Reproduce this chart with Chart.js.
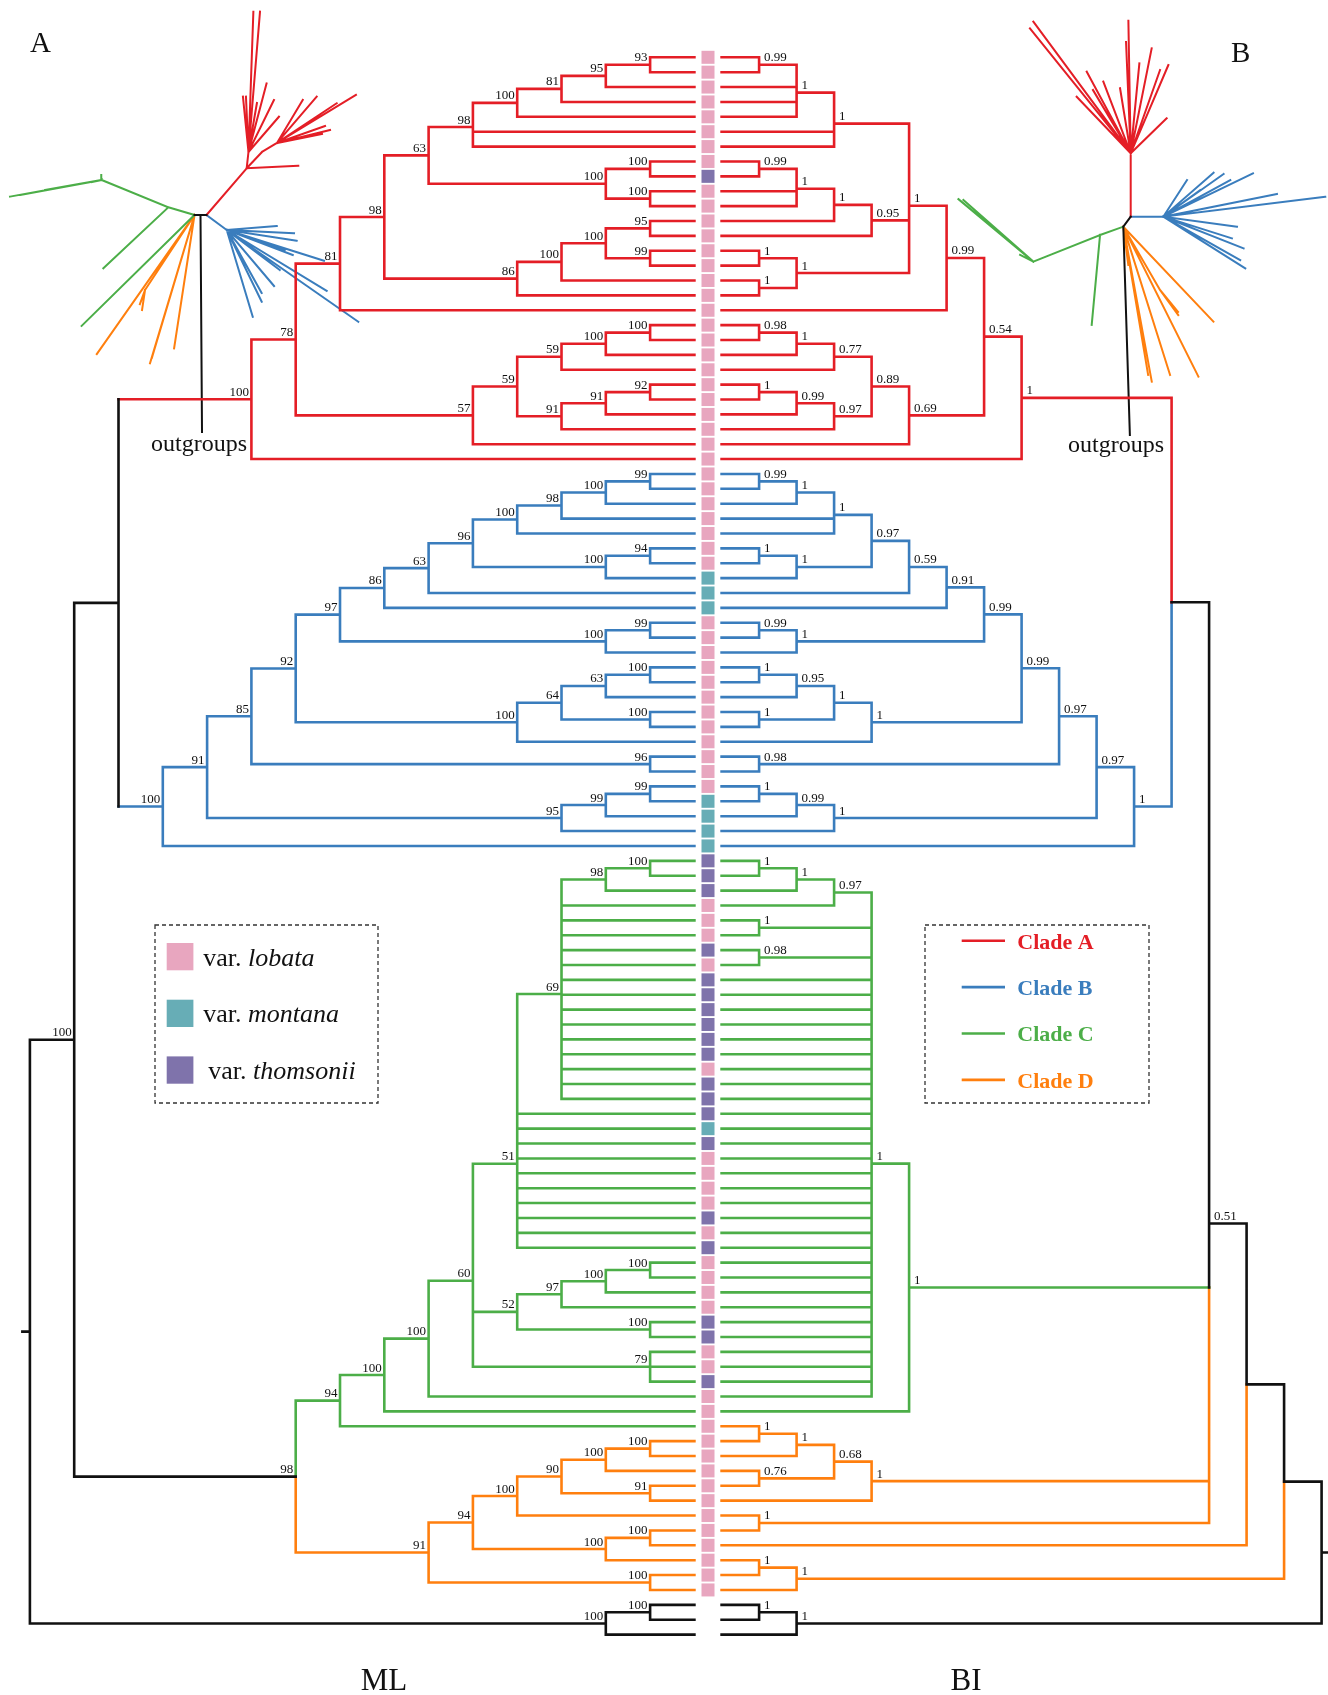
<!DOCTYPE html>
<html>
<head>
<meta charset="utf-8">
<script src="https://cdn.jsdelivr.net/npm/chart.js@4.4.1/dist/chart.umd.min.js"></script>
<style>
  html, body { margin: 0; padding: 0; background: #fff; }
  #wrap { width: 1328px; height: 1695px; }
</style>
</head>
<body>
<div id="wrap"><canvas id="tree" width="1328" height="1695"></canvas></div>
<script>
"use strict";

// ---- data ---------------------------------------------------------------
// 104 samples (leaves 0..103, top to bottom) + 3 outgroups (104..106)
const leafCount = 107;
const sampleCount = 104;

// one letter per sample: L = var. lobata, M = var. montana, T = var. thomsonii
const varieties =
  "LLLLLLLLTLLLLLLLLLLLLLLLLLLL" +
  "LLLLLLLMMMLLLLLLLLLLLLMMMM" +
  "TTTLLLTLTTTTTTLTTTMTLLLLTLTLLLLTTLLTLLL" +
  "LLLLLLLLLLL";

// clades as leaf ranges [first, last, clade]
const mlClades = [[0, 27, "A"], [28, 53, "B"], [54, 92, "C"], [93, 103, "D"]];
const biClades = [[0, 27, "A"], [28, 53, "B"], [54, 91, "C"], [92, 103, "D"]];

// internal nodes: [first leaf, last leaf, depth level, support]
const mlNodes = [
  // clade A
  [0, 1, 1, 93], [0, 2, 2, 95], [0, 3, 3, 81], [0, 4, 4, 100], [0, 6, 5, 98],
  [7, 8, 1, 100], [9, 10, 1, 100], [7, 10, 2, 100], [0, 10, 6, 63],
  [11, 12, 1, 95], [13, 14, 1, 99], [11, 14, 2, 100], [11, 15, 3, 100], [11, 16, 4, 86],
  [0, 16, 7, 98], [0, 17, 8, 81],
  [18, 19, 1, 100], [18, 20, 2, 100], [18, 21, 3, 59], [22, 23, 1, 92], [22, 24, 2, 91],
  [22, 25, 3, 91], [18, 25, 4, 59], [18, 26, 5, 57], [0, 26, 9, 78], [0, 27, 10, 100],
  // clade B
  [28, 29, 1, 99], [28, 30, 2, 100], [28, 31, 3, 98], [28, 32, 4, 100], [33, 34, 1, 94],
  [33, 35, 2, 100], [28, 35, 5, 96], [28, 36, 6, 63], [28, 37, 7, 86], [38, 39, 1, 99],
  [38, 40, 2, 100], [28, 40, 8, 97], [41, 42, 1, 100], [41, 43, 2, 63], [44, 45, 1, 100],
  [41, 45, 3, 64], [41, 46, 4, 100], [28, 46, 9, 92], [47, 48, 1, 96], [28, 48, 10, 85],
  [49, 50, 1, 99], [49, 51, 2, 99], [49, 52, 3, 95], [28, 52, 11, 91], [28, 53, 12, 100],
  // clade C
  [54, 55, 1, 100], [54, 56, 2, 98], [54, 70, 3, 69], [54, 80, 4, 51], [81, 82, 1, 100],
  [81, 83, 2, 100], [81, 84, 3, 97], [85, 86, 1, 100], [81, 86, 4, 52], [87, 89, 1, 79],
  [54, 89, 5, 60], [54, 90, 6, 100], [54, 91, 7, 100], [54, 92, 8, 94],
  // clade D
  [93, 94, 1, 100], [93, 95, 2, 100], [96, 97, 1, 91], [93, 97, 3, 90], [93, 98, 4, 100],
  [99, 100, 1, 100], [99, 101, 2, 100], [93, 101, 5, 94], [102, 103, 1, 100], [93, 103, 6, 91],
  // backbone and outgroups
  [54, 103, 9, 98], [0, 53, 13, null], [0, 103, 14, 100],
  [104, 105, 1, 100], [104, 106, 2, 100], [0, 106, 15, null]
];

const biNodes = [
  // clade A
  [0, 1, 1, 0.99], [0, 4, 2, 1], [0, 6, 3, 1], [7, 8, 1, 0.99], [7, 10, 2, 1], [7, 11, 3, 1],
  [7, 12, 4, 0.95], [13, 14, 1, 1], [15, 16, 1, 1], [13, 16, 2, 1], [0, 16, 5, 1], [0, 17, 6, 0.99],
  [18, 19, 1, 0.98], [18, 20, 2, 1], [18, 21, 3, 0.77], [22, 23, 1, 1], [22, 24, 2, 0.99],
  [22, 25, 3, 0.97], [18, 25, 4, 0.89], [18, 26, 5, 0.69], [0, 26, 7, 0.54], [0, 27, 8, 1],
  // clade B
  [28, 29, 1, 0.99], [28, 30, 2, 1], [28, 32, 3, 1], [33, 34, 1, 1], [33, 35, 2, 1],
  [28, 35, 4, 0.97], [28, 36, 5, 0.59], [28, 37, 6, 0.91], [38, 39, 1, 0.99], [38, 40, 2, 1],
  [28, 40, 7, 0.99], [41, 42, 1, 1], [41, 43, 2, 0.95], [44, 45, 1, 1], [41, 45, 3, 1],
  [41, 46, 4, 1], [28, 46, 8, 0.99], [47, 48, 1, 0.98], [28, 48, 9, 0.97], [49, 50, 1, 1],
  [49, 51, 2, 0.99], [49, 52, 3, 1], [28, 52, 10, 0.97], [28, 53, 11, 1],
  // clade C
  [54, 55, 1, 1], [54, 56, 2, 1], [54, 57, 3, 0.97], [58, 59, 1, 1], [60, 61, 1, 0.98],
  [54, 90, 4, 1], [54, 91, 5, 1],
  // clade D
  [92, 93, 1, 1], [92, 94, 2, 1], [95, 96, 1, 0.76], [92, 96, 3, 0.68], [92, 97, 4, 1],
  [98, 99, 1, 1], [101, 102, 1, 1], [101, 103, 2, 1],
  // backbone and outgroups
  [0, 53, 12, null], [0, 99, 13, 0.51], [0, 100, 14, null], [0, 103, 15, null],
  [104, 105, 1, 1], [104, 106, 2, 1], [0, 106, 16, null]
];

// unrooted overview trees: [parent node, angle (deg), branch length, clade]; node 0 is the hub
const insetA = [
  [0, 180, 6, "O"], [0, 0, 6, "O"], [0, -89.6, 217, "O"],
  [2, 49.3, 61.6, "A"], [4, 2.9, 51.7, "A"], [4, 83.7, 16.4, "A"],
  [6, 88, 140.4, "A"], [6, 85.3, 140.8, "A"], [6, 95.7, 55.6, "A"], [6, 92.6, 55.4, "A"],
  [6, 75.2, 71, "A"], [6, 80.2, 49.7, "A"], [6, 63.9, 57.9, "A"], [6, 49.2, 46.6, "A"],
  [4, 46.8, 22.4, "A"], [15, 31, 17.5, "A"],
  [16, 49.4, 61, "A"], [16, 31.3, 92.4, "A"], [16, 13.8, 54.6, "A"], [16, 19.5, 51, "A"],
  [16, 59.1, 50.1, "A"], [16, 33.6, 71.7, "A"], [16, 11.3, 45.9, "A"],
  [1, 163.6, 27.3, "C"], [24, 157.7, 72, "C"], [25, 190.3, 93.2, "C"], [25, 190.4, 83, "C"],
  [25, 190, 57.6, "C"], [25, 191.6, 9.9, "C"], [25, 95, 5, "C"], [24, 223.2, 89.1, "C"],
  [1, 224.5, 158.3, "C"],
  [1, 234.9, 170, "D"], [1, 253.3, 154.8, "D"], [1, 261.3, 134.9, "D"], [1, 253.4, 149, "D"],
  [1, 236.6, 89.9, "D"], [37, 261.5, 20.2, "D"], [37, 250, 15, "D"],
  [2, -36.6, 25.2, "B"], [40, 4.6, 50.2, "B"], [40, -2.8, 67.4, "B"], [40, -8.7, 70.8, "B"],
  [40, -20.7, 70.6, "B"], [40, -17.5, 102, "B"], [40, -31.3, 117, "B"], [40, -34.9, 160.4, "B"],
  [40, -49.8, 73.3, "B"], [40, -64, 79.8, "B"], [40, -73.3, 90.5, "B"], [40, -61, 72, "B"],
  [40, -37, 66.4, "B"], [40, -19, 61.4, "B"]
];
const insetB = [
  [0, 233.5, 12.4, "O"], [1, -88.2, 208.4, "O"], [0, 90, 63.4, "A"],
  [3, 128.9, 160.5, "A"], [3, 126.5, 163.7, "A"], [3, 133.7, 78.2, "A"], [3, 118.3, 92.7, "A"],
  [3, 110.9, 76.7, "A"], [3, 99.3, 65.9, "A"], [3, 91, 132.6, "A"], [3, 92.4, 111.4, "A"],
  [3, 84.5, 90.4, "A"], [3, 78.7, 107, "A"], [3, 66.9, 96, "A"], [3, 44.2, 50.2, "A"],
  [3, 70.6, 88.3, "A"], [3, 120.8, 73.7, "A"],
  [0, 0, 22.6, "B"], [18, 0, 10, "B"],
  [19, 57.1, 43.7, "B"], [19, 41.2, 66.8, "B"], [19, 35.3, 73.9, "B"], [19, 25.8, 99.6, "B"],
  [19, 11.3, 115.9, "B"], [19, 7, 163.2, "B"], [19, -7.7, 74.4, "B"], [19, -21.5, 86.3, "B"],
  [19, -32.2, 96.9, "B"], [19, -17.5, 72, "B"], [19, -29.4, 88.3, "B"], [19, 35.8, 45.6, "B"],
  [19, 28.7, 76.4, "B"],
  [1, 199.6, 24.7, "C"], [33, 201.8, 71.8, "C"], [34, 140.2, 97.6, "C"], [34, 138.6, 93.3, "C"],
  [34, 153, 14.9, "C"], [33, 264.7, 90.4, "C"],
  [1, -46.5, 130.9, "D"], [1, -63.4, 167.7, "D"], [1, -72.5, 155.5, "D"], [1, -79.6, 157.6, "D"],
  [1, -80.5, 150.3, "D"], [1, -82.6, 38.6, "D"], [1, -59.9, 73.2, "D"], [45, -50.7, 28.4, "D"],
  [45, -54, 31, "D"]
];

// ---- styles / layout ------------------------------------------------------
const cladeColors = { O: "#111111", A: "#e41e26", B: "#3a7dbd", C: "#4cae48", D: "#ff7f0e" };
const varietyColors = { L: "#e8a6bf", M: "#67adb6", T: "#7f73ab" };
const cladeNames = { A: "Clade A", B: "Clade B", C: "Clade C", D: "Clade D" };
const varietyNames = { L: "lobata", M: "montana", T: "thomsonii" };
const SERIF = '"Liberation Serif", "Times New Roman", serif';
const squareX = 708;                  // column of variety squares (px)
// joints drawn in the node's own colour from the first child down to child k
const mlDarkJoins = [[0, 53, 1]];
const biDarkJoins = [[0, 99, 1]];
const lineW = 2.6;

// ---- tree building --------------------------------------------------------
function buildTree(rows, clades) {
  const cladeOf = (a, b) => {
    const c = clades.find(c => a >= c[0] && b <= c[1]);
    return c ? c[2] : "O";
  };
  const nodes = rows.map(r => ({ a: r[0], b: r[1], level: r[2], support: r[3], kids: [] }));
  nodes.sort((p, q) => (p.b - p.a) - (q.b - q.a));
  nodes.forEach(n => {
    n.clade = cladeOf(n.a, n.b);
    n.parent = nodes.find(m => m !== n && m.a <= n.a && m.b >= n.b && (m.b - m.a) > (n.b - n.a)) || null;
  });
  nodes.forEach(n => {
    const direct = nodes.filter(m => m.parent === n);
    for (let i = n.a; i <= n.b;) {
      const c = direct.find(m => m.a === i);
      if (c) { n.kids.push(c); i = c.b + 1; }
      else { n.kids.push({ level: 0, y: i, clade: cladeOf(i, i) }); i++; }
    }
    n.y = n.kids.reduce((s, k) => s + k.y, 0) / n.kids.length;
  });
  return { nodes, root: nodes.find(n => !n.parent) };
}

function treeSegments(tree, darkJoins, stub) {
  const out = {};
  const add = (clade, pts) => {
    (out[clade] = out[clade] || []).push(...pts.map(p => ({ x: p[0], y: p[1] })), { x: null, y: null });
  };
  tree.nodes.forEach(n => {
    const join = darkJoins.find(r => r[0] === n.a && r[1] === n.b);
    if (join) {
      const k = join[2], ky = n.kids[k].y;
      add(n.clade, [[n.level, n.kids[0].y], [n.level, ky]]);
      n.kids.forEach((kid, j) => {
        if (j > k) add(kid.clade, [[n.level, ky], [n.level, kid.y], [kid.level, kid.y]]);
        else add(kid.clade, [[n.level, kid.y], [kid.level, kid.y]]);
      });
      return;
    }
    n.kids.forEach(k => add(k.clade, [[n.level, n.y], [n.level, k.y], [k.level, k.y]]));
  });
  add(tree.root.clade, [[tree.root.level, tree.root.y], [tree.root.level + stub, tree.root.y]]);
  return out;
}

function insetSegments(branches, hub) {
  const pts = [hub];
  const out = {};
  branches.forEach(([p, ang, len, clade]) => {
    const from = pts[p], rad = ang * Math.PI / 180;
    const to = [from[0] + len * Math.cos(rad), from[1] - len * Math.sin(rad)];
    pts.push(to);
    (out[clade] = out[clade] || []).push({ x: from[0], y: from[1] }, { x: to[0], y: to[1] }, { x: null, y: null });
  });
  return out;
}

const mlTree = buildTree(mlNodes, mlClades);
const biTree = buildTree(biNodes, biClades);

const datasets = [];
function pushLines(segs, xAxisID, yAxisID, width) {
  ["O", "A", "B", "C", "D"].forEach(c => {
    if (!segs[c]) return;
    datasets.push({
      data: segs[c], xAxisID, yAxisID, showLine: true, spanGaps: false,
      borderColor: cladeColors[c], borderWidth: width, pointRadius: 0,
      borderCapStyle: "square", borderJoinStyle: "miter", tension: 0, fill: false
    });
  });
}
pushLines(treeSegments(mlTree, mlDarkJoins, 0.17), "xm", "yl", lineW);
pushLines(treeSegments(biTree, biDarkJoins, 0.2), "xb", "yl", lineW);
pushLines(insetSegments(insetA, [200.5, 215]), "xp", "yp", 2);
pushLines(insetSegments(insetB, [1130.7, 216.7]), "xp", "yp", 2);

datasets.push({
  data: Array.from({ length: sampleCount }, (_, i) => ({ x: squareX, y: i })),
  xAxisID: "xp", yAxisID: "yl", showLine: false,
  pointStyle: "rect", pointRadius: 9.2, borderWidth: 0,
  backgroundColor: Array.from(varieties).map(v => varietyColors[v])
});

// ---- texts drawn on top ------------------------------------------------------
const textPlugin = {
  id: "treeTexts",
  afterDatasetsDraw(chart) {
    const ctx = chart.ctx, s = chart.scales;
    ctx.save();
    ctx.fillStyle = "#111";
    ctx.textBaseline = "alphabetic";

    // support values
    ctx.font = "13px " + SERIF;
    ctx.textAlign = "right";
    mlTree.nodes.forEach(n => {
      if (n.support == null) return;
      ctx.fillText(String(n.support), s.xm.getPixelForValue(n.level) - 2.5, s.yl.getPixelForValue(n.y) - 3.5);
    });
    ctx.textAlign = "left";
    biTree.nodes.forEach(n => {
      if (n.support == null) return;
      ctx.fillText(String(n.support), s.xb.getPixelForValue(n.level) + 5, s.yl.getPixelForValue(n.y) - 3.5);
    });

    // panel letters and titles
    ctx.font = "29px " + SERIF;
    ctx.fillText("A", 30, 52);
    ctx.fillText("B", 1231, 62);
    ctx.font = "24px " + SERIF;
    ctx.fillText("outgroups", 151, 451);
    ctx.fillText("outgroups", 1068, 452);
    ctx.font = "31px " + SERIF;
    ctx.textAlign = "center";
    ctx.fillText("ML", 384, 1690);
    ctx.fillText("BI", 966, 1690);

    // legend boxes
    ctx.strokeStyle = "#333";
    ctx.lineWidth = 1.3;
    ctx.setLineDash([4, 3]);
    ctx.strokeRect(155, 925, 223, 178);
    ctx.strokeRect(925, 925, 224, 178);
    ctx.setLineDash([]);

    ctx.textAlign = "left";
    ["L", "M", "T"].forEach((v, i) => {
      const top = 943 + i * 56.7;
      ctx.fillStyle = varietyColors[v];
      ctx.fillRect(166.7, top, 26.7, 27.3);
      ctx.fillStyle = "#111";
      const tx = i === 2 ? 208.3 : 203.3;
      ctx.font = "26px " + SERIF;
      ctx.fillText("var. ", tx, top + 22.5);
      const w = ctx.measureText("var. ").width;
      ctx.font = "italic 26px " + SERIF;
      ctx.fillText(varietyNames[v], tx + w, top + 22.5);
    });

    ["A", "B", "C", "D"].forEach((c, i) => {
      const y = 940.7 + i * 46.4;
      ctx.strokeStyle = cladeColors[c];
      ctx.lineWidth = 2.6;
      ctx.beginPath();
      ctx.moveTo(961.7, y);
      ctx.lineTo(1005, y);
      ctx.stroke();
      ctx.fillStyle = cladeColors[c];
      ctx.font = "bold 22px " + SERIF;
      ctx.fillText(cladeNames[c], 1017.3, y + 7.8);
    });
    ctx.restore();
  }
};

new Chart(document.getElementById("tree"), {
  type: "scatter",
  data: { datasets },
  options: {
    responsive: false,
    maintainAspectRatio: false,
    devicePixelRatio: 1,
    animation: false,
    events: [],
    layout: { padding: 0, autoPadding: false },
    plugins: { legend: { display: false }, tooltip: { enabled: false } },
    scales: {
      xm: { type: "linear", display: false, bounds: "data", reverse: true, min: -14.302, max: 15.675 },
      xb: { type: "linear", display: false, bounds: "data", min: -19.243, max: 16.171 },
      xp: { type: "linear", display: false, bounds: "data", min: 0, max: 1328 },
      yl: { type: "linear", display: false, bounds: "data", reverse: true, min: -3.851, max: 110.06 },
      yp: { type: "linear", display: false, bounds: "data", reverse: true, min: 0, max: 1695 }
    }
  },
  plugins: [textPlugin]
});
</script>
</body>
</html>
